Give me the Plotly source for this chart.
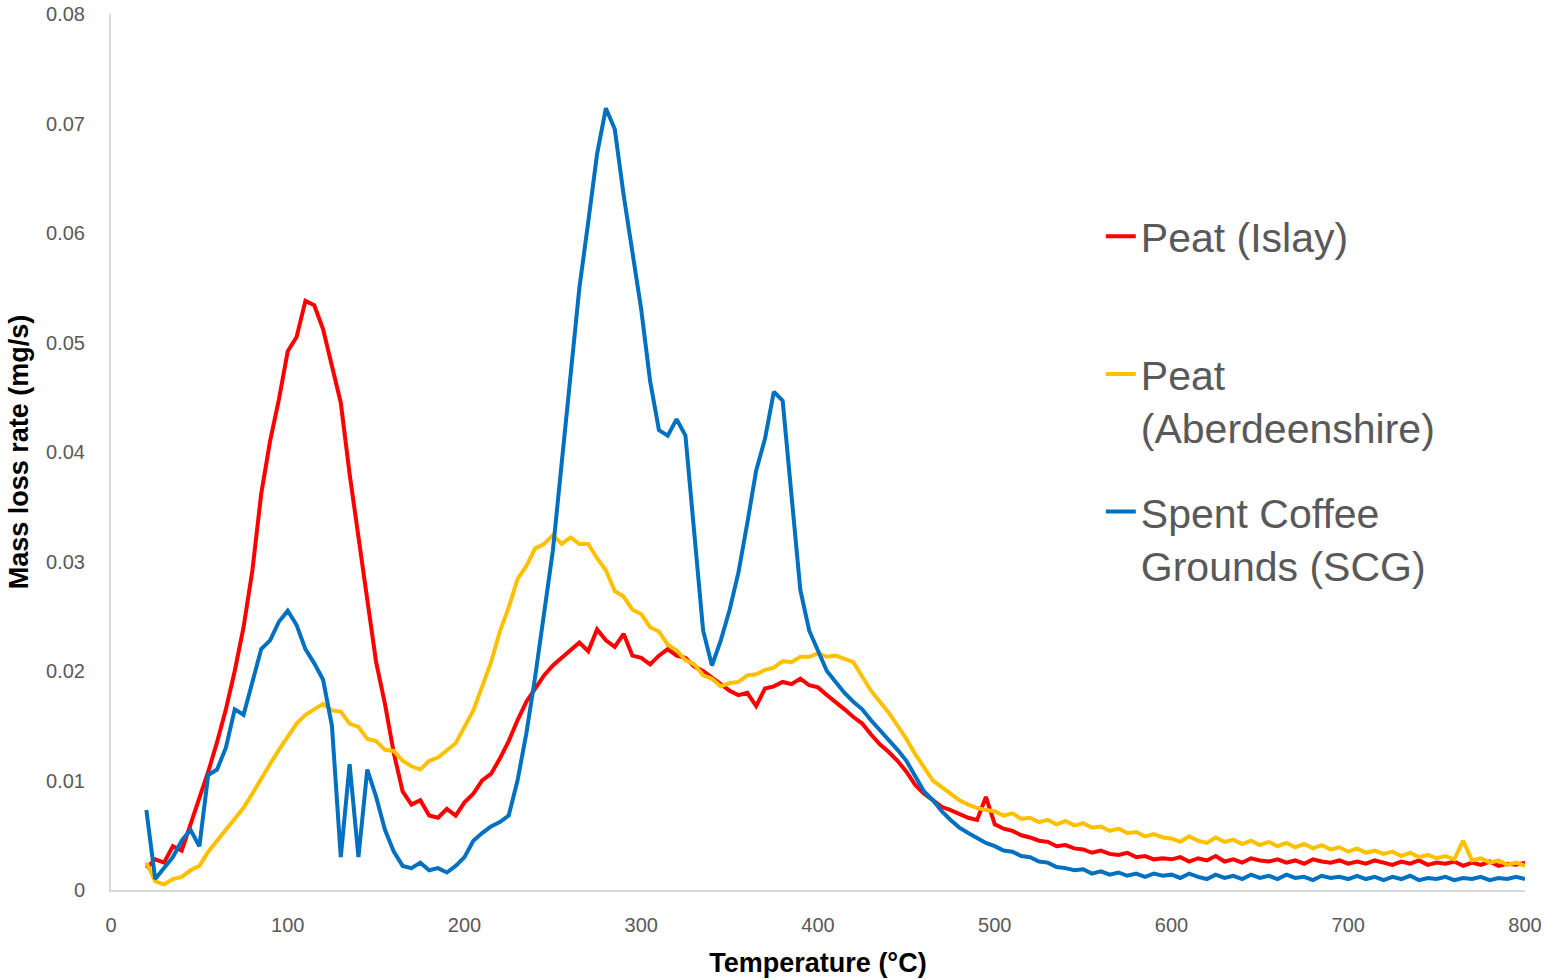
import plotly.graph_objects as go

TEMP = list(range(20, 801, 5))

# Peat (Islay) – mass loss rate (mg/s)
PEAT_ISLAY = [
    0.0020, 0.0028, 0.0025, 0.0040, 0.0036, 0.0060, 0.0082, 0.0108, 0.0135, 0.0165,
    0.0200, 0.0240, 0.0292, 0.0362, 0.0410, 0.0448, 0.0492, 0.0505, 0.0538, 0.0534,
    0.0512, 0.0480, 0.0445, 0.0380, 0.0325, 0.0265, 0.0208, 0.0170, 0.0125, 0.0090,
    0.0078, 0.0082, 0.0068, 0.0066, 0.0074, 0.0068, 0.0080, 0.0088, 0.0100, 0.0106,
    0.0120, 0.0136, 0.0155, 0.0172, 0.0184, 0.0196, 0.0205, 0.0212, 0.0218, 0.0226,
    0.0218, 0.0238, 0.0228, 0.0222, 0.0234, 0.0214, 0.0212, 0.0206, 0.0214, 0.0220,
    0.0214, 0.0212, 0.0204, 0.0200, 0.0194, 0.0188, 0.0182, 0.0178, 0.0180, 0.0168,
    0.0184, 0.0186, 0.0190, 0.0188, 0.0193, 0.0187, 0.0185, 0.0178, 0.0172, 0.0165,
    0.0158, 0.0152, 0.0142, 0.0133, 0.0126, 0.0118, 0.0108, 0.0096, 0.0088, 0.0082,
    0.0076, 0.0073, 0.0069, 0.0066, 0.0064, 0.0085,
    0.0060, 0.0056, 0.0054, 0.0050, 0.0048, 0.0045, 0.0044, 0.0040, 0.0041, 0.0038,
    0.0037, 0.0034, 0.0036, 0.0033, 0.0032, 0.0034, 0.0030, 0.0031, 0.0028, 0.0029,
    0.0028, 0.0030, 0.0026, 0.0029, 0.0027, 0.0031, 0.0026, 0.0028, 0.0025, 0.0029, 0.0027,
    0.0026, 0.0028, 0.0025, 0.0027, 0.0024, 0.0028, 0.0026, 0.0025, 0.0027, 0.0024,
    0.0026, 0.0024, 0.0027, 0.0025, 0.0023, 0.0026, 0.0024, 0.0027, 0.0023, 0.0025,
    0.0024, 0.0026, 0.0022, 0.0025, 0.0023, 0.0026, 0.0022, 0.0024, 0.0023, 0.0025,
]

# Peat (Aberdeenshire)
PEAT_ABERDEEN = [
    0.0025, 0.0008, 0.0005, 0.0010, 0.0012, 0.0018, 0.0022, 0.0035, 0.0045, 0.0055,
    0.0065, 0.0075, 0.0088, 0.0102, 0.0115, 0.0128, 0.0140, 0.0152, 0.0160, 0.0165,
    0.0170, 0.0164, 0.0163, 0.0152, 0.0149, 0.0138, 0.0136, 0.0128, 0.0127, 0.0118,
    0.0113, 0.0110, 0.0118, 0.0121, 0.0128, 0.0134, 0.0149, 0.0164, 0.0186, 0.0208,
    0.0236, 0.0258, 0.0284, 0.0296, 0.0312, 0.0316, 0.0324, 0.0316, 0.0322, 0.0316,
    0.0316, 0.0303, 0.0292, 0.0273, 0.0268, 0.0256, 0.0252, 0.0240, 0.0236, 0.0224,
    0.0219, 0.0210, 0.0206, 0.0196, 0.0193, 0.0186, 0.0189, 0.0190, 0.0196, 0.0197,
    0.0201, 0.0203, 0.0209, 0.0208, 0.0213, 0.0213, 0.0216, 0.0213, 0.0214, 0.0211,
    0.0208, 0.0195, 0.0182, 0.0172, 0.0162, 0.0150, 0.0138, 0.0124, 0.0112, 0.0100,
    0.0094, 0.0088, 0.0082, 0.0078, 0.0075, 0.0073,
    0.0072, 0.0068, 0.0070, 0.0065, 0.0066, 0.0062, 0.0064, 0.0060, 0.0063, 0.0059,
    0.0061, 0.0057, 0.0058, 0.0054, 0.0056, 0.0052, 0.0053, 0.0049, 0.0051, 0.0048,
    0.0047, 0.0044, 0.0049, 0.0045, 0.0043, 0.0048, 0.0044, 0.0046, 0.0042, 0.0045, 0.0041,
    0.0044, 0.0040, 0.0043, 0.0039, 0.0042, 0.0038, 0.0041, 0.0037, 0.0039, 0.0035,
    0.0038, 0.0034, 0.0036, 0.0033, 0.0035, 0.0031, 0.0034, 0.0030, 0.0032, 0.0029,
    0.0031, 0.0028, 0.0045, 0.0027, 0.0029, 0.0025, 0.0027, 0.0023, 0.0025, 0.0022,
]

# Spent Coffee Grounds (SCG)
SCG = [
    0.0073, 0.0010, 0.0020, 0.0030, 0.0045, 0.0055, 0.0040, 0.0105, 0.0110, 0.0130,
    0.0165, 0.0160, 0.0190, 0.0220, 0.0228, 0.0245, 0.0255, 0.0242, 0.0220, 0.0207,
    0.0192, 0.0150, 0.0030, 0.0115, 0.0030, 0.0110, 0.0085, 0.0055, 0.0035, 0.0022,
    0.0020, 0.0025, 0.0018, 0.0020, 0.0016, 0.0022, 0.0030, 0.0045, 0.0052, 0.0058,
    0.0062, 0.0068, 0.0100, 0.0143, 0.0195, 0.0250, 0.0310, 0.0390, 0.0470, 0.0550,
    0.0610, 0.0672, 0.0714, 0.0695, 0.0635, 0.0580, 0.0530, 0.0465, 0.0420, 0.0415,
    0.0430, 0.0415, 0.0330, 0.0237, 0.0205, 0.0228, 0.0256, 0.0290, 0.0335, 0.0383,
    0.0412, 0.0455, 0.0447, 0.0356, 0.0274, 0.0237, 0.0219, 0.0200, 0.0190, 0.0180,
    0.0172, 0.0165, 0.0155, 0.0146, 0.0138, 0.0128, 0.0118, 0.0104, 0.0090, 0.0082,
    0.0072, 0.0064, 0.0057, 0.0052, 0.0047, 0.0043,
    0.0040, 0.0036, 0.0035, 0.0031, 0.0030, 0.0026, 0.0025, 0.0021, 0.0020, 0.0018,
    0.0019, 0.0015, 0.0017, 0.0014, 0.0016, 0.0013, 0.0015, 0.0012, 0.0015, 0.0013,
    0.0014, 0.0011, 0.0015, 0.0012, 0.0010, 0.0014, 0.0011, 0.0013, 0.0010, 0.0014, 0.0011,
    0.0013, 0.0010, 0.0014, 0.0011, 0.0012, 0.0009, 0.0013, 0.0011, 0.0012, 0.0010,
    0.0013, 0.0010, 0.0012, 0.0009, 0.0012, 0.0010, 0.0013, 0.0009, 0.0011, 0.0010,
    0.0012, 0.0009, 0.0011, 0.0010, 0.0012, 0.0009, 0.0011, 0.0010, 0.0012, 0.0010,
]

SERIES = [
    ("Peat (Islay)<br> ", PEAT_ISLAY, "#FF0000"),
    ("Peat<br>(Aberdeenshire)", PEAT_ABERDEEN, "#FFC000"),
    ("Spent Coffee<br>Grounds (SCG)", SCG, "#0070C0"),
]

X_TICKS = [0, 100, 200, 300, 400, 500, 600, 700, 800]
Y_TICKS = [0, 0.01, 0.02, 0.03, 0.04, 0.05, 0.06, 0.07, 0.08]

FONT = "Arial, 'Liberation Sans', sans-serif"
GREY = "#595959"

fig = go.Figure()
for i, (name, vals, color) in enumerate(SERIES):
    assert len(vals) == len(TEMP)
    fig.add_trace(go.Scatter(
        x=TEMP, y=vals, mode="lines", name=name,
        line=dict(color=color, width=4),
        legendgroup=f"g{i}",
    ))

fig.update_layout(
    width=1544, height=979,
    margin=dict(l=111, r=19, t=14, b=89, autoexpand=False),
    plot_bgcolor="white", paper_bgcolor="white",
    font=dict(family=FONT, color=GREY),
    showlegend=True,
    legend=dict(
        x=0.700, y=0.784, xanchor="left", yanchor="top",
        font=dict(size=41, color=GREY, family=FONT),
        valign="top", tracegroupgap=28,
        bgcolor="rgba(0,0,0,0)",
    ),
)
fig.update_xaxes(
    range=[0, 800], tickvals=X_TICKS, ticktext=[str(v) for v in X_TICKS],
    showgrid=False, zeroline=False, showline=True, linecolor="#D9D9D9", linewidth=2,
    automargin=False,
    ticks="", tickfont=dict(size=20, color=GREY, family=FONT), ticklabelstandoff=16,
    title=dict(text="<b>Temperature (°C)</b>", font=dict(size=27, color="black", family=FONT), standoff=18),
)
fig.update_yaxes(
    range=[0, 0.08], tickvals=Y_TICKS, ticktext=["0"] + [f"{v:.2f}" for v in Y_TICKS[1:]],
    showgrid=False, zeroline=False, showline=True, linecolor="#D9D9D9", linewidth=2,
    automargin=False,
    ticks="", tickfont=dict(size=20, color=GREY, family=FONT), ticklabelstandoff=20,
    title=dict(text="<b>Mass loss rate (mg/s)</b>", font=dict(size=27, color="black", family=FONT), standoff=10),
)

fig.write_html("out.html")
